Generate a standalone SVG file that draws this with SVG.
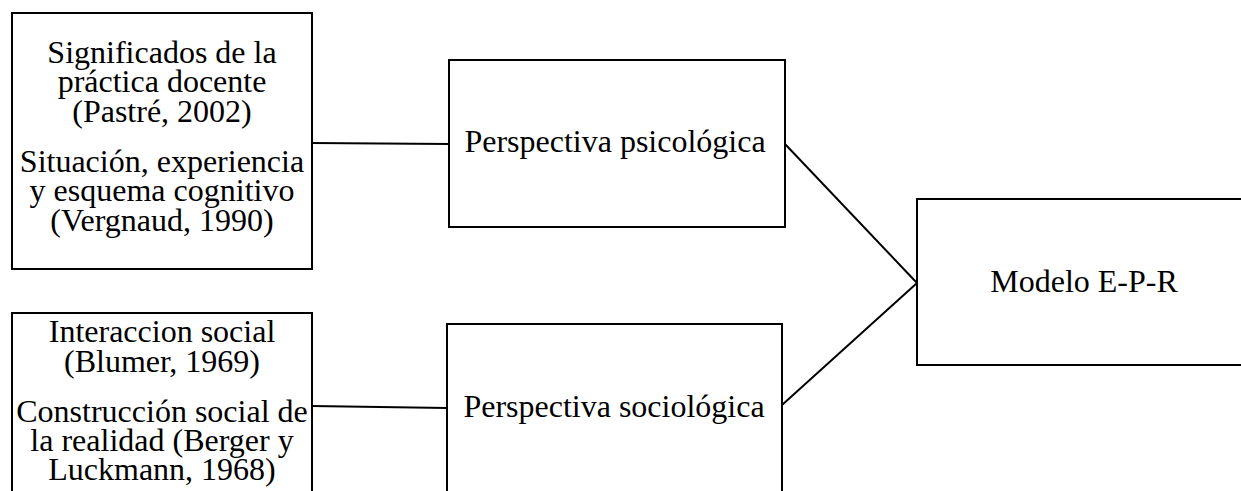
<svg xmlns="http://www.w3.org/2000/svg" width="1241" height="491" viewBox="0 0 1241 491">
<style>
.box{fill:#fff;stroke:#000;stroke-width:2}
.ln{fill:none;stroke:#000;stroke-width:2}
text{font-family:"Liberation Serif","Times New Roman",serif;font-size:32px;fill:#000;text-anchor:middle}
</style>
<rect width="1241" height="491" fill="#fff"/>
<g id="connectors">
<line class="ln" x1="312" y1="143" x2="449" y2="144"/>
<line class="ln" x1="312" y1="406" x2="447" y2="408"/>
<line class="ln" x1="785" y1="144" x2="917" y2="283"/>
<line class="ln" x1="782" y1="405" x2="917" y2="283"/>
</g>
<g id="node-significados">
<rect class="box" x="12" y="13" width="300" height="256"/>
<text x="162" y="62.5">Significados de la</text>
<text x="162" y="92">práctica docente</text>
<text x="162" y="121.5">(Pastré, 2002)</text>
<text x="162" y="171.5">Situación, experiencia</text>
<text x="162" y="201">y esquema cognitivo</text>
<text x="162" y="230.5">(Vergnaud, 1990)</text>
</g>
<g id="node-interaccion">
<rect class="box" x="12" y="313" width="300" height="200"/>
<text x="162" y="342">Interaccion social</text>
<text x="162" y="372">(Blumer, 1969)</text>
<text x="162" y="422">Construcción social de</text>
<text x="162" y="451">la realidad (Berger y</text>
<text x="162" y="480">Luckmann, 1968)</text>
</g>
<g id="node-psicologica">
<rect class="box" x="449" y="60" width="336" height="167"/>
<text x="615" y="152">Perspectiva psicológica</text>
</g>
<g id="node-sociologica">
<rect class="box" x="447" y="324" width="335" height="200"/>
<text x="614" y="417">Perspectiva sociológica</text>
</g>
<g id="node-modelo">
<rect class="box" x="917" y="199" width="340" height="166"/>
<text x="1084" y="292">Modelo E-P-R</text>
</g>
</svg>
